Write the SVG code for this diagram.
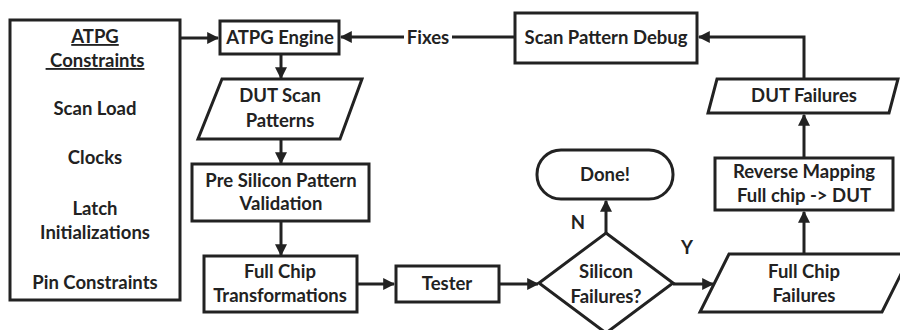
<svg xmlns="http://www.w3.org/2000/svg" width="900" height="330" viewBox="0 0 900 330">
  <style>
    .shape { fill: #fff; stroke: #222; stroke-width: 3; stroke-linejoin: miter; }
    .wire { fill: none; stroke: #222; stroke-width: 3; }
    text { font-family: Lato, "Open Sans", sans-serif; font-weight: bold; font-size: 18.5px; fill: #222; text-anchor: middle; }
  </style>
  <defs>
    <marker id="arrow" viewBox="0 0 10 10" refX="9" refY="5" markerWidth="4" markerHeight="4" orient="auto" markerUnits="strokeWidth">
      <path d="M0,0 L10,5 L0,10 z" fill="#222"/>
    </marker>
  </defs>
  <rect width="900" height="330" fill="#fff"/>

  <g id="connectors">
    <path class="wire" d="M180,38 H218" marker-end="url(#arrow)"/>
    <path class="wire" d="M281,54 V78" marker-end="url(#arrow)"/>
    <path class="wire" d="M281,139 V163" marker-end="url(#arrow)"/>
    <path class="wire" d="M281,221 V255" marker-end="url(#arrow)"/>
    <path class="wire" d="M357,284 H394" marker-end="url(#arrow)"/>
    <path class="wire" d="M499,284 H538" marker-end="url(#arrow)"/>
    <path class="wire" d="M606,234 V201" marker-end="url(#arrow)"/>
    <path class="wire" d="M673,284 H713" marker-end="url(#arrow)"/>
    <path class="wire" d="M804,254 V212" marker-end="url(#arrow)"/>
    <path class="wire" d="M804,158 V115" marker-end="url(#arrow)"/>
    <path class="wire" d="M804,79 V37 H699" marker-end="url(#arrow)"/>
    <path class="wire" d="M515,37 H452"/>
    <path class="wire" d="M404,37 H341" marker-end="url(#arrow)"/>
    <text x="428" y="44">Fixes</text>
    <text x="578" y="229">N</text>
    <text x="687" y="254">Y</text>
  </g>

  <g id="constraints">
    <rect class="shape" x="10" y="20" width="170" height="280"/>
    <text x="95" y="43" text-decoration="underline">ATPG</text>
    <text x="95" y="67" text-decoration="underline">&#160;Constraints</text>
    <text x="95" y="115">Scan Load</text>
    <text x="95" y="164">Clocks</text>
    <text x="95" y="215">Latch</text>
    <text x="95" y="239">Initializations</text>
    <text x="95" y="289">Pin Constraints</text>
  </g>

  <g id="atpg-engine">
    <rect class="shape" x="220" y="21" width="119" height="33"/>
    <text x="280" y="44">ATPG Engine</text>
  </g>

  <g id="dut-scan-patterns">
    <polygon class="shape" points="222,79 362,79 340,139 198,139"/>
    <text x="280" y="102">DUT Scan</text>
    <text x="280" y="127">Patterns</text>
  </g>

  <g id="pre-silicon">
    <rect class="shape" x="192" y="164" width="177" height="57"/>
    <text x="281" y="187">Pre Silicon Pattern</text>
    <text x="281" y="210">Validation</text>
  </g>

  <g id="full-chip-transformations">
    <rect class="shape" x="204" y="256" width="153" height="56"/>
    <text x="280" y="278">Full Chip</text>
    <text x="280" y="302">Transformations</text>
  </g>

  <g id="tester">
    <rect class="shape" x="396" y="266" width="103" height="36"/>
    <text x="447" y="290">Tester</text>
  </g>

  <g id="silicon-failures">
    <polygon class="shape" points="606,233 673,283 606,333 539,283"/>
    <text x="606" y="278">Silicon</text>
    <text x="606" y="303">Failures?</text>
  </g>

  <g id="done">
    <rect class="shape" x="537" y="150" width="136" height="49" rx="24" ry="24"/>
    <text x="605" y="181">Done!</text>
  </g>

  <g id="full-chip-failures">
    <polygon class="shape" points="729,254 911,254 882,312 700,312"/>
    <text x="804" y="278">Full Chip</text>
    <text x="804" y="302">Failures</text>
  </g>

  <g id="reverse-mapping">
    <rect class="shape" x="715" y="158" width="178" height="52"/>
    <text x="804" y="178">Reverse Mapping</text>
    <text x="804" y="202">Full chip -&gt; DUT</text>
  </g>

  <g id="dut-failures">
    <polygon class="shape" points="717,79 898,79 889,113 708,113"/>
    <text x="804" y="102">DUT Failures</text>
  </g>

  <g id="scan-pattern-debug">
    <rect class="shape" x="515" y="13" width="182" height="50"/>
    <text x="606" y="44">Scan Pattern Debug</text>
  </g>
</svg>
